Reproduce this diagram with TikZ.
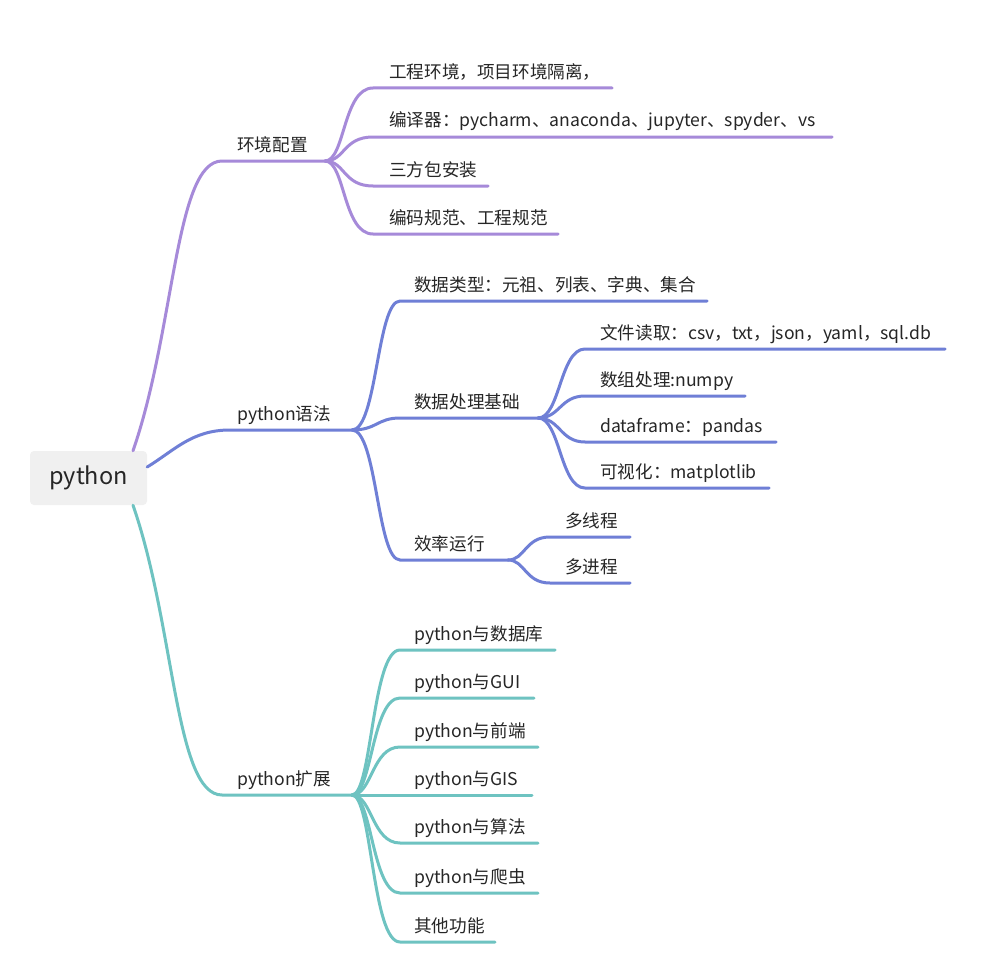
\documentclass[tikz,border=0pt]{standalone}
\usepackage{fontspec}
\setmainfont{Noto Sans CJK SC}
\definecolor{pur}{HTML}{A68AD9}
\definecolor{blu}{HTML}{6F7FD6}
\definecolor{tea}{HTML}{6EC3C1}
\definecolor{txt}{HTML}{262626}
\definecolor{rootfill}{HTML}{F0F0F0}
\begin{document}
\begin{tikzpicture}[x=1pt,y=-1pt,
  lbl/.style={anchor=base west, text=txt, inner sep=0pt, font=\fontsize{17.6}{20}\selectfont},
  rootbox/.style={fill=rootfill, rounded corners=4pt, minimum width=117pt, minimum height=54pt, inner sep=0pt, text=txt, font=\fontsize{23.5}{26}\selectfont},
  brp/.style={draw=pur, line width=3pt, line cap=round},
  brb/.style={draw=blu, line width=3pt, line cap=round},
  brt/.style={draw=tea, line width=3pt, line cap=round}]
\fill[white] (0,0) rectangle (989,966);
\useasboundingbox (0,0) rectangle (989,966);

% root
\node[rootbox] (root) at (88.5,478) {python};
\coordinate (r1) at ([xshift=44.5pt]root.north);
\coordinate (r2) at ([yshift=11pt]root.east);
\coordinate (r3) at ([xshift=44.5pt]root.south);

% ---------- purple branch ----------
\coordinate (e0) at (222,161);
\coordinate (eb) at (325,161);
\node[lbl] (env) at (237,151) {环境配置};
\draw[brp] (r1) .. controls (175,330) and (175,161) .. (e0) -- (eb);

\coordinate (e1s) at (373,88);  \coordinate (e1e) at (612,88);
\coordinate (e2s) at (373,137); \coordinate (e2e) at (832,137);
\coordinate (e3s) at (373,186); \coordinate (e3e) at (488,186);
\coordinate (e4s) at (373,234); \coordinate (e4e) at (558,234);
\node[lbl] (e1) at (389,78)  {工程环境，项目环境隔离，};
\node[lbl] (e2) at (389,127) {编译器：pycharm、anaconda、jupyter、spyder、vs};
\node[lbl] (e3) at (389,176) {三方包安装};
\node[lbl] (e4) at (389,224) {编码规范、工程规范};
\foreach \i in {1,2,3,4}
  \draw[brp] (eb) .. controls +(20,0) and +(-30,0) .. (e\i s) -- (e\i e);

% ---------- blue branch ----------
\coordinate (s0) at (230,430);
\coordinate (sb) at (352,430);
\node[lbl] (syn) at (237,420) {python语法};
\draw[brb] (r2) .. controls (175,450) and (192,430) .. (s0) -- (sb);

\coordinate (d1s) at (400,301); \coordinate (d1e) at (707,301);
\coordinate (d2s) at (400,418); \coordinate (db) at (538,418);
\coordinate (d3s) at (400,560); \coordinate (xb) at (508,560);
\node[lbl] (d1) at (414,291) {数据类型：元祖、列表、字典、集合};
\node[lbl] (d2) at (414,408) {数据处理基础};
\node[lbl] (d3) at (414,550) {效率运行};
\draw[brb] (sb) .. controls +(25,0) and +(-23,0) .. (d1s) -- (d1e);
\draw[brb] (sb) .. controls +(25,0) and +(-23,0) .. (d2s) -- (db);
\draw[brb] (sb) .. controls +(25,0) and +(-23,0) .. (d3s) -- (xb);

\coordinate (f1s) at (585,349); \coordinate (f1e) at (945,349);
\coordinate (f2s) at (585,396); \coordinate (f2e) at (745,396);
\coordinate (f3s) at (585,442); \coordinate (f3e) at (776,442);
\coordinate (f4s) at (585,488); \coordinate (f4e) at (769,488);
\node[lbl] (f1) at (600,339) {文件读取：csv，txt，json，yaml，sql.db};
\node[lbl] (f2) at (600,386) {数组处理:numpy};
\node[lbl] (f3) at (600,432) {dataframe：pandas};
\node[lbl] (f4) at (600,478) {可视化：matplotlib};
\foreach \i in {1,2,3,4}
  \draw[brb] (db) .. controls +(22,0) and +(-25,0) .. (f\i s) -- (f\i e);

\coordinate (g1s) at (550,537); \coordinate (g1e) at (630,537);
\coordinate (g2s) at (550,583); \coordinate (g2e) at (630,583);
\node[lbl] (g1) at (565,527) {多线程};
\node[lbl] (g2) at (565,573) {多进程};
\foreach \i in {1,2}
  \draw[brb] (xb) .. controls +(17,0) and +(-25,0) .. (g\i s) -- (g\i e);

% ---------- teal branch ----------
\coordinate (x0) at (222,795);
\coordinate (xbr) at (352,795);
\node[lbl] (ext) at (237,785) {python扩展};
\draw[brt] (r3) .. controls (175,626) and (175,795) .. (x0) -- (xbr);

\coordinate (h1s) at (400,650); \coordinate (h1e) at (555,650);
\coordinate (h2s) at (400,698); \coordinate (h2e) at (534,698);
\coordinate (h3s) at (400,747); \coordinate (h3e) at (538,747);
\coordinate (h4s) at (400,795); \coordinate (h4e) at (532,795);
\coordinate (h5s) at (400,843); \coordinate (h5e) at (538,843);
\coordinate (h6s) at (400,893); \coordinate (h6e) at (538,893);
\coordinate (h7s) at (400,942); \coordinate (h7e) at (495,942);
\node[lbl] (h1) at (414,640) {python与数据库};
\node[lbl] (h2) at (414,688) {python与GUI};
\node[lbl] (h3) at (414,737) {python与前端};
\node[lbl] (h4) at (414,785) {python与GIS};
\node[lbl] (h5) at (414,833) {python与算法};
\node[lbl] (h6) at (414,883) {python与爬虫};
\node[lbl] (h7) at (414,932) {其他功能};
\foreach \i in {1,...,7}
  \draw[brt] (xbr) .. controls +(20,0) and +(-28,0) .. (h\i s) -- (h\i e);
\end{tikzpicture}
\end{document}
